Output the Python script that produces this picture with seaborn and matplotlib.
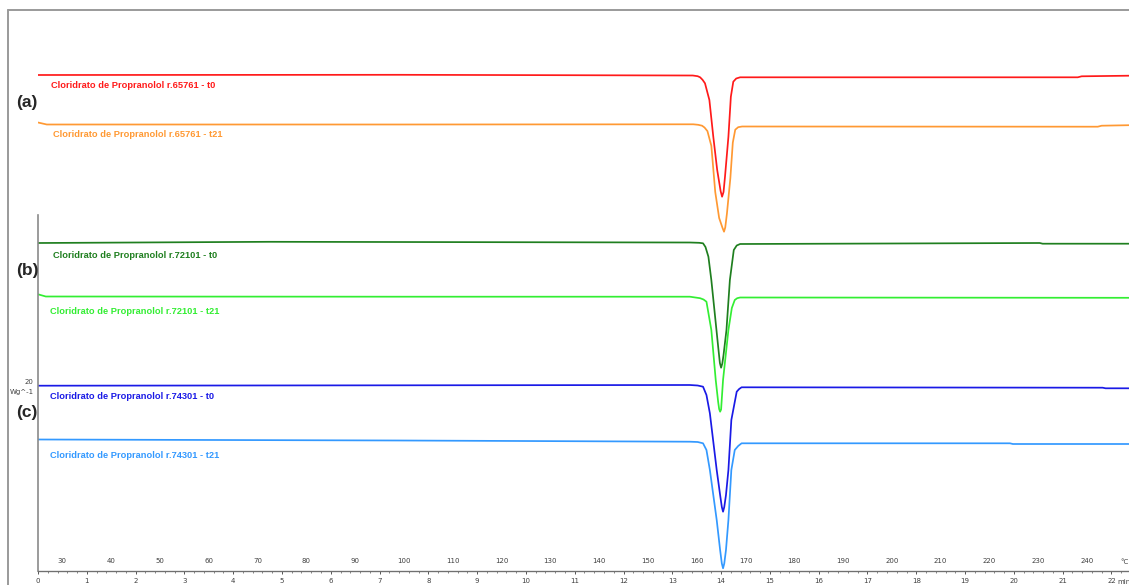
import seaborn as sns
import matplotlib.pyplot as plt
from matplotlib.lines import Line2D
from matplotlib.ticker import MultipleLocator

# --------------------------------------------------
# DSC curves: temperature (°C) and heat flow (W/g)
# --------------------------------------------------
temp_a0 = [25.0, 99.2, 159.2, 160.2, 160.7, 161.2, 161.7, 162.6, 163.4, 164.2, 164.9,
           165.2, 165.5, 165.8, 166.5, 167.0, 167.5, 168.1, 168.9, 238.1, 238.9, 248.6]
hf_a0 = [50.60, 50.62, 50.55, 50.48, 50.37, 50.12, 49.77, 48.10, 44.43, 41.10, 39.00,
         38.43, 38.90, 40.43, 44.43, 48.43, 49.93, 50.25, 50.37, 50.37, 50.47, 50.53]

temp_a21 = [25.0, 26.8, 99.2, 159.3, 160.3, 161.1, 161.6, 162.2, 163.0, 163.8, 164.6, 165.3,
            165.6, 165.85, 166.2, 166.9, 167.4, 167.9, 168.5, 169.3, 242.2, 243.0, 248.6]
hf_a21 = [45.85, 45.65, 45.65, 45.67, 45.62, 45.53, 45.35, 44.99, 43.52, 38.90, 36.30, 35.30,
          34.93, 35.35, 36.76, 40.30, 43.84, 45.13, 45.38, 45.45, 45.43, 45.53, 45.58]

temp_b0 = [25.0, 72.5, 158.6, 160.5, 161.3, 161.8, 162.4, 163.0, 163.7, 164.4, 164.75,
           165.0, 165.25, 165.5, 166.1, 166.8, 167.6, 168.2, 168.9, 230.3, 230.9, 248.6]
hf_b0 = [33.80, 33.92, 33.85, 33.82, 33.77, 33.40, 32.43, 30.10, 26.77, 23.43, 21.80,
         21.33, 21.75, 22.60, 25.10, 30.10, 33.10, 33.55, 33.70, 33.80, 33.73, 33.73]

temp_b21 = [25.0, 26.6, 99.2, 158.6, 160.7, 161.4, 162.0, 163.0, 163.9, 164.4, 164.6,
            164.8, 165.0, 165.1, 165.4, 166.5, 167.2, 167.8, 168.3, 168.9, 248.6]
hf_b21 = [28.67, 28.45, 28.43, 28.43, 28.28, 28.15, 27.93, 25.10, 20.10, 17.90, 17.20,
          16.93, 17.15, 17.90, 20.10, 25.10, 27.30, 28.10, 28.28, 28.35, 28.32]

temp_c0 = [25.0, 158.6, 160.2, 161.3, 162.0, 162.7, 164.1, 164.8, 165.15, 165.4, 165.65,
           166.0, 166.5, 167.1, 168.2, 168.7, 169.2, 243.2, 243.8, 248.6]
hf_c0 = [19.53, 19.60, 19.55, 19.43, 18.60, 16.77, 11.10, 8.60, 7.40, 6.93, 7.40,
         8.60, 11.10, 16.10, 18.93, 19.20, 19.37, 19.33, 19.27, 19.27]

temp_c21 = [25.0, 99.2, 158.6, 160.2, 161.3, 162.0, 162.7, 164.1, 164.8, 165.15, 165.4,
            165.65, 166.0, 166.5, 167.1, 167.8, 168.5, 169.2, 224.2, 224.8, 248.6]
hf_c21 = [14.15, 14.05, 13.93, 13.90, 13.77, 13.10, 11.10, 6.10, 3.10, 1.75, 1.27,
          1.75, 3.10, 6.10, 11.10, 13.10, 13.50, 13.77, 13.77, 13.70, 13.70]

curve_labels = [
    "Cloridrato de Propranolol r.65761 - t0",
    "Cloridrato de Propranolol r.65761 - t21",
    "Cloridrato de Propranolol r.72101 - t0",
    "Cloridrato de Propranolol r.72101 - t21",
    "Cloridrato de Propranolol r.74301 - t0",
    "Cloridrato de Propranolol r.74301 - t21",
]
curve_colors = ["#ff1a1a", "#ff9933", "#1f7f1f", "#33ee33", "#1a1ae6", "#3399ff"]
panel_labels = ["(a)", "(b)", "(c)"]

temps = [temp_a0, temp_a21, temp_b0, temp_b21, temp_c0, temp_c21]
flows = [hf_a0, hf_a21, hf_b0, hf_b21, hf_c0, hf_c21]

W, H = 1129, 585


def fx(px):
    return px / W


def fy(py):
    return 1 - py / H


# --------------------------------------------------
# Figure
# --------------------------------------------------
sns.set_style("white")
plt.rcParams["font.family"] = ["DejaVu Sans"]
fig = plt.figure(figsize=(W / 100, H / 100), dpi=100)

# window frame
fig.add_artist(Line2D([fx(7.5), 1], [fy(10), fy(10)], color="#9a9a9a", lw=1.4))
fig.add_artist(Line2D([fx(7.5), fx(7.5)], [fy(10), 0], color="#9a9a9a", lw=1.4))

ax = fig.add_axes([fx(38), fy(570.7), fx(W - 38), fy(10) - fy(570.7)])
for t, h, c in zip(temps, flows, curve_colors):
    sns.lineplot(x=t, y=h, color=c, lw=1.25, estimator=None, sort=False, ax=ax)

ax.set_xlim(25, 248.6)
ax.set_ylim(1.03, 57.1)
ax.patch.set_alpha(0)

for s in ["top", "right"]:
    ax.spines[s].set_visible(False)
ax.spines["left"].set_color("#8a8a8a")
ax.spines["left"].set_linewidth(1.2)
ax.spines["left"].set_bounds(1.03, 36.6)
ax.spines["bottom"].set_color("#707070")
ax.spines["bottom"].set_linewidth(0.9)

ax.set_yticks([1.03, 36.6])
ax.set_yticklabels([])
ax.tick_params(axis="y", length=2.5, width=0.9, color="#707070", direction="out")

# temperature scale: ticks up, labels above the ruler
ax.set_xticks(range(30, 250, 10))
ax.xaxis.set_minor_locator(MultipleLocator(2))
ax.tick_params(axis="x", which="major", direction="in", length=3, width=0.7,
               color="#555555", labelsize=5, labelcolor="#404040", pad=-9.0)
ax.tick_params(axis="x", which="minor", direction="in", length=1.5, width=0.6,
               color="#555555")

# time scale (10 °C/min from 25 °C): ticks down, labels below
sec = ax.secondary_xaxis("bottom", functions=(lambda T: (T - 25) / 10,
                                               lambda m: m * 10 + 25))
sec.set_xticks(range(0, 23))
sec.xaxis.set_minor_locator(MultipleLocator(0.2))
sec.spines["bottom"].set_color("#707070")
sec.tick_params(axis="x", which="major", direction="out", length=2.5, width=0.7,
                color="#555555", labelsize=5, labelcolor="#404040", pad=2.5)
sec.tick_params(axis="x", which="minor", direction="out", length=1.2, width=0.5,
                color="#555555")

fig.text(fx(1120), fy(562.3), "°C", fontsize=5, color="#404040", va="center")
fig.text(fx(1117), fy(582), "min", fontsize=5, color="#404040", va="center")

# y scale annotation
fig.text(fx(33.5), fy(381.7), "20", fontsize=5, color="#404040", ha="right", va="center")
fig.text(fx(33.5), fy(392.3), "Wg^-1", fontsize=5, color="#404040", ha="right", va="center")

# curve labels
label_pos = [(50.7, 86), (53.3, 134.3), (52.7, 256), (50, 311), (50, 396.7), (50, 456)]
for (px, py), txt, c in zip(label_pos, curve_labels, curve_colors):
    fig.text(fx(px), fy(py), txt, color=c, fontsize=6.65, fontweight="bold",
             family="Liberation Sans", va="center")

for py, txt in zip([102.7, 270, 412], panel_labels):
    fig.text(fx(16.5), fy(py), txt, fontsize=12.5, fontweight="bold",
             family="Liberation Sans", va="center")

fig.savefig("out.png", dpi=100)
